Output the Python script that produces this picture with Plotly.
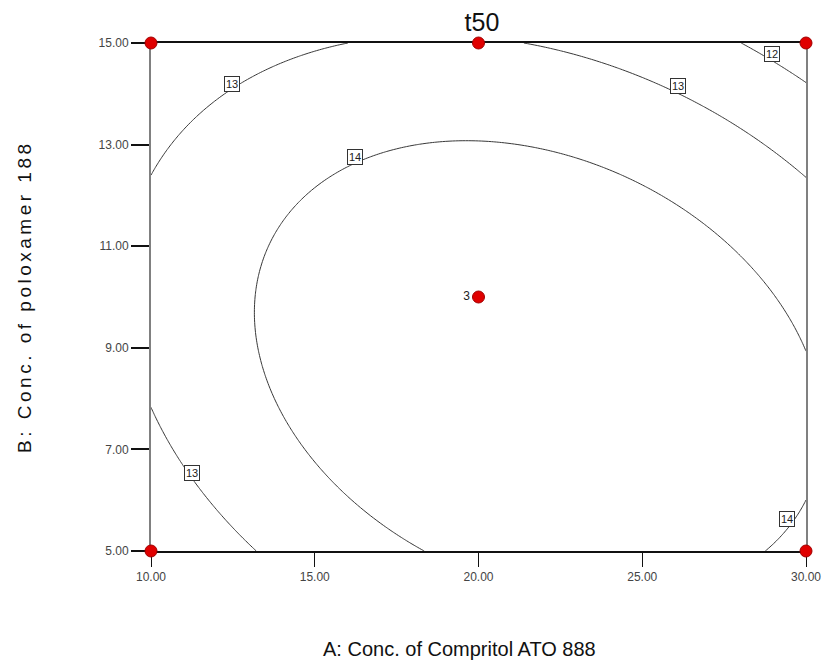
import numpy as np
import plotly.graph_objects as go

# ---- data ----
# points: (A, B) and its level
level_13_topleft_A = [10.0, 10.96, 12.47, 13.97, 16.29]
level_13_topleft_B = [12.34, 13.23, 14.19, 14.61, 15.0]
level_13_topright_A = [21.10, 22.90, 25.91, 28.41, 29.97]
level_13_topright_B = [15.0, 14.76, 14.13, 13.15, 12.36]
level_13_botleft_A = [9.97, 11.26, 13.19]
level_13_botleft_B = [7.78, 6.54, 4.98]
level_12_A = [28.02, 29.97]
level_12_B = [15.0, 14.23]
level_14_main_A = [13.19, 13.79, 14.78, 16.23, 18.0, 19.98, 22.90, 25.40, 27.41,
                   29.13, 29.52, 29.97, 13.58, 14.48, 15.98, 18.30]
level_14_main_B = [9.94, 11.12, 12.05, 12.76, 12.95, 13.05, 12.76, 12.05, 11.12,
                   9.98, 9.61, 8.96, 8.23, 7.19, 6.06, 5.02]
level_14_corner_A = [29.97, 28.71]
level_14_corner_B = [6.0, 4.98]

contour_levels = [12, 13, 14]

# design points
design_A = [10, 10, 20, 30, 30, 20]
design_B = [5, 15, 15, 15, 5, 10]
design_text = ["", "", "", "", "", "3"]

x_ticks = [10, 15, 20, 25, 30]
y_ticks = [5, 7, 9, 11, 13, 15]

# label boxes on the contour lines
label_text = ["13", "14", "13", "12", "13", "14"]

# ---- fit a quadratic response surface through traced contour points ----
groups = [
    (level_13_topleft_A, level_13_topleft_B, 13),
    (level_13_topright_A, level_13_topright_B, 13),
    (level_13_botleft_A, level_13_botleft_B, 13),
    (level_12_A, level_12_B, 12),
    (level_14_main_A, level_14_main_B, 14),
    (level_14_corner_A, level_14_corner_B, 14),
]
rows, rhs = [], []
for As, Bs, lv in groups:
    for A, B in zip(As, Bs):
        a = (A - 20) / 10.0
        b = (B - 10) / 5.0
        rows.append([1, a, b, a * b, a * a, b * b])
        rhs.append(lv)
coef, *_ = np.linalg.lstsq(np.array(rows, float), np.array(rhs, float), rcond=None)

gx = np.linspace(10, 30, 201)
gy = np.linspace(5, 15, 201)
GA, GB = np.meshgrid(gx, gy)
ga = (GA - 20) / 10.0
gb = (GB - 10) / 5.0
Z = (coef[0] + coef[1] * ga + coef[2] * gb + coef[3] * ga * gb
     + coef[4] * ga ** 2 + coef[5] * gb ** 2)

fig = go.Figure()
fig.add_trace(go.Contour(
    x=gx, y=gy, z=Z,
    contours=dict(start=min(contour_levels), end=max(contour_levels), size=1,
                  coloring="none", showlabels=False),
    line=dict(color="#383838", width=1),
    showscale=False, hoverinfo="skip",
))
fig.add_trace(go.Scatter(
    x=design_A, y=design_B, mode="markers+text",
    text=design_text, textposition="middle left",
    textfont=dict(family="Liberation Sans, Arial", size=12, color="#222"),
    marker=dict(color="#e00000", size=12, line=dict(color="#a00000", width=1)),
    cliponaxis=False, showlegend=False,
))

# label positions (A, B) for the boxed contour labels
label_pos = [(12.47, 14.19), (16.23, 12.76), (26.09, 14.15),
             (28.95, 14.78), (11.26, 6.54), (29.43, 5.63)]
for (lx, ly), t in zip(label_pos, label_text):
    fig.add_annotation(x=lx, y=ly, text=t, showarrow=False,
                       font=dict(family="Liberation Sans, Arial", size=11, color="#222"),
                       bgcolor="white", bordercolor="#333", borderwidth=1, borderpad=1)

W, H = 833, 664
L, R, T, Bm = 151, 17, 43, 113
pw = W - L - R
ph = H - T - Bm

fig.add_annotation(
    xref="paper", yref="paper", x=(464 - L) / pw, y=-(649 - (H - Bm)) / ph,
    text="A: Conc. of Compritol ATO 888", showarrow=False,
    font=dict(family="Liberation Sans, Arial", size=20, color="#111"),
    xanchor="center", yanchor="middle")
fig.add_annotation(
    xref="paper", yref="paper", x=(22 - L) / pw, y=0.5,
    text='<span style="letter-spacing:3.5px">B: Conc. of poloxamer 188</span>',
    showarrow=False, textangle=-90,
    font=dict(family="Liberation Sans, Arial", size=19, color="#111"),
    xanchor="center", yanchor="middle")

fig.update_layout(
    width=W, height=H, autosize=False,
    margin=dict(l=L, r=R, t=T, b=Bm, pad=0),
    paper_bgcolor="white", plot_bgcolor="white",
    title=dict(text="t50", x=482 / W, y=1 - 22 / H, xanchor="center", yanchor="middle",
               font=dict(family="Liberation Sans, Arial", size=25, color="#111")),
    showlegend=False,
    xaxis=dict(range=[10, 30], tickvals=x_ticks,
               ticktext=[f"{v:.2f}" for v in x_ticks],
               ticks="outside", ticklen=14, tickcolor="#111", tickwidth=1,
               showline=True, linecolor="#111", linewidth=1.5, mirror=True,
               showgrid=False, zeroline=False, layer="below traces",
               ticklabeloverflow="allow",
               tickfont=dict(family="Liberation Sans, Arial", size=12, color="#444")),
    yaxis=dict(range=[5, 15], tickvals=y_ticks,
               ticktext=[f"{v:.2f}" for v in y_ticks],
               ticks="outside", ticklen=18, tickcolor="#111", tickwidth=1.5,
               showline=True, linecolor="#808080", linewidth=2, mirror=True,
               showgrid=False, zeroline=False, layer="below traces",
               tickfont=dict(family="Liberation Sans, Arial", size=12, color="#444")),
)

fig.write_html("out.html")
